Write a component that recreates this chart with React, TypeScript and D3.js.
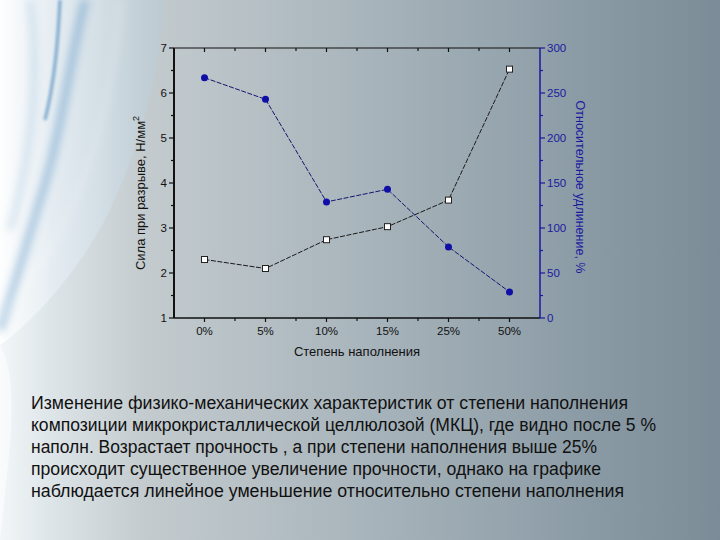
import React from "react";
import * as d3 from "d3";

const categories = ["0%", "5%", "10%", "15%", "25%", "50%"];
const strength = [2.3, 2.1, 2.74, 3.03, 3.62, 6.53];
const elongation = [267, 243, 129, 143, 79, 29];
const leftTicks = [1, 2, 3, 4, 5, 6, 7];
const rightTicks = [0, 50, 100, 150, 200, 250, 300];
const captionLines = [
  "Изменение физико-механических характеристик от степени наполнения",
  "композиции микрокристаллической целлюлозой (МКЦ), где видно после 5 %",
  "наполн. Возрастает прочность , а при степени наполнения выше 25%",
  "происходит существенное увеличение прочности, однако на графике",
  "наблюдается линейное уменьшение относительно степени наполнения",
];
const captionWidths = [597, 625, 566, 570, 593];

const W = 720;
const H = 540;
const L = 174, R = 540, T = 48, B = 318;
const BLUE = "#1a1aa0";
const FONT = "'Liberation Sans', Arial, sans-serif";

export default function App() {
  const x = d3.scalePoint<string>().domain(categories).range([L, R]).padding(0.5);
  const yL = d3.scaleLinear().domain([1, 7]).range([B, T]);
  const yR = d3.scaleLinear().domain([0, 300]).range([B, T]);
  const step = x.step();

  const lineS = d3.line<number>().x((_, i) => x(categories[i])!).y((d) => yL(d));
  const lineE = d3.line<number>().x((_, i) => x(categories[i])!).y((d) => yR(d));

  const leftMinor = d3.range(1.5, 7, 1);
  const rightMinor = d3.range(25, 300, 50);
  const xMinor = categories.slice(0, -1).map((c) => x(c)! + step / 2);

  return (
    <svg width={W} height={H} style={{ position: "absolute", left: 0, top: 0, display: "block" }}>
      <defs>
        <linearGradient id="bg" x1="0" x2="1" y1="0" y2="0">
          <stop offset="0" stopColor="#f2f6f8" />
          <stop offset="0.08" stopColor="#dbe3e7" />
          <stop offset="0.2" stopColor="#c3cbce" />
          <stop offset="0.5" stopColor="#a9b5bc" />
          <stop offset="0.8" stopColor="#8c9ca6" />
          <stop offset="1" stopColor="#7b8c98" />
        </linearGradient>
        <linearGradient id="sw" x1="0" x2="1" y1="0" y2="0">
          <stop offset="0" stopColor="#ffffff" stopOpacity="0.85" />
          <stop offset="0.6" stopColor="#d6e4ee" stopOpacity="0.55" />
          <stop offset="1" stopColor="#b8cad8" stopOpacity="0.45" />
        </linearGradient>
        <filter id="blur" x="-50%" y="-50%" width="200%" height="200%">
          <feGaussianBlur stdDeviation="4" />
        </filter>
        <filter id="blur2" x="-50%" y="-50%" width="200%" height="200%">
          <feGaussianBlur stdDeviation="1.5" />
        </filter>
      </defs>
      <rect x={0} y={0} width={W} height={H} fill="url(#bg)" />
      {/* decorative swoosh on the left */}
      <path d="M0,0 L165,0 C160,70 140,150 105,220 C75,275 35,320 0,345 Z" fill="url(#sw)" />
      <path d="M0,345 C20,380 10,450 0,540 L0,540 Z" fill="#ffffff" opacity={0.5} />
      <path d="M85,0 C70,60 60,140 40,200 C25,250 10,300 0,330" fill="none" stroke="#3f83bb" strokeWidth={7} opacity={0.45} filter="url(#blur)" />
      <path d="M60,0 C58,40 55,80 45,120" fill="none" stroke="#2f75b0" strokeWidth={3} opacity={0.6} filter="url(#blur2)" />
      <path d="M120,0 C115,80 95,170 55,240 C35,275 15,300 0,320" fill="none" stroke="#ffffff" strokeWidth={3} opacity={0.35} filter="url(#blur)" />
      <path d="M30,0 C40,80 30,160 10,230" fill="none" stroke="#9cc0dc" strokeWidth={5} opacity={0.5} filter="url(#blur)" />

      {/* frame */}
      <line x1={L} x2={R} y1={T} y2={T} stroke="#111" strokeWidth={1.2} />
      <line x1={L} x2={R} y1={B} y2={B} stroke="#111" strokeWidth={1.5} />
      <line x1={L} x2={L} y1={T} y2={B} stroke="#111" strokeWidth={2} />
      <line x1={R} x2={R} y1={T} y2={B} stroke={BLUE} strokeWidth={1.5} />

      {/* left axis ticks */}
      {leftTicks.map((t) => (
        <g key={"l" + t}>
          <line x1={L - 5} x2={L} y1={yL(t)} y2={yL(t)} stroke="#111" strokeWidth={1.2} />
          <text x={L - 7} y={yL(t)} dy="0.35em" textAnchor="end" fontSize={11.5} fontFamily={FONT} fill="#111">
            {t}
          </text>
        </g>
      ))}
      {leftMinor.map((t) => (
        <line key={"lm" + t} x1={L - 3} x2={L} y1={yL(t)} y2={yL(t)} stroke="#111" strokeWidth={1.2} />
      ))}

      {/* right axis ticks */}
      {rightTicks.map((t) => (
        <g key={"r" + t}>
          <line x1={R} x2={R + 5} y1={yR(t)} y2={yR(t)} stroke={BLUE} strokeWidth={1.2} />
          <text x={R + 7} y={yR(t)} dy="0.35em" textAnchor="start" fontSize={11.5} fontFamily={FONT} fill={BLUE}>
            {t}
          </text>
        </g>
      ))}
      {rightMinor.map((t) => (
        <line key={"rm" + t} x1={R} x2={R + 3} y1={yR(t)} y2={yR(t)} stroke={BLUE} strokeWidth={1.2} />
      ))}

      {/* x ticks */}
      {categories.map((c) => (
        <g key={"x" + c}>
          <line x1={x(c)} x2={x(c)} y1={B} y2={B + 4} stroke="#111" strokeWidth={1.2} />
          <line x1={x(c)} x2={x(c)} y1={T} y2={T + 4} stroke="#111" strokeWidth={1.2} />
          <text x={x(c)} y={B + 17} textAnchor="middle" fontSize={11.5} fontFamily={FONT} fill="#111">
            {c}
          </text>
        </g>
      ))}
      {xMinor.map((v, i) => (
        <g key={"xm" + i}>
          <line x1={v} x2={v} y1={B} y2={B + 3} stroke="#111" strokeWidth={1.2} />
          <line x1={v} x2={v} y1={T} y2={T + 3} stroke="#111" strokeWidth={1.2} />
        </g>
      ))}

      {/* axis titles */}
      <text
        transform={`translate(${145},${193}) rotate(-90)`}
        textAnchor="middle"
        fontSize={13}
        fontFamily={FONT}
        fill="#111"
      >
        Сила при разрыве,  Н/мм
        <tspan dy={-6} fontSize={9}>2</tspan>
      </text>
      <text
        transform={`translate(${576},${187}) rotate(90)`}
        textAnchor="middle"
        fontSize={12.5}
        fontFamily={FONT}
        fill={BLUE}
      >
        Относительное удлинение, %
      </text>
      <text x={357} y={356} textAnchor="middle" fontSize={13} fontFamily={FONT} fill="#111">
        Степень наполнения
      </text>

      {/* series */}
      <path d={lineS(strength) ?? ""} fill="none" stroke="#1a1a1a" strokeWidth={1} strokeDasharray="5,1.5" />
      <path d={lineE(elongation) ?? ""} fill="none" stroke="#15156e" strokeWidth={1} strokeDasharray="5,1.5" />
      {strength.map((v, i) => (
        <rect
          key={"s" + i}
          x={x(categories[i])! - 3}
          y={yL(v) - 3}
          width={6}
          height={6}
          fill="#ffffff"
          stroke="#222"
          strokeWidth={1}
        />
      ))}
      {elongation.map((v, i) => (
        <circle key={"e" + i} cx={x(categories[i])} cy={yR(v)} r={3.5} fill="#0f0fa8" />
      ))}

      {/* caption */}
      {captionLines.map((s, i) => (
        <text
          key={"c" + i}
          x={31}
          y={409 + i * 22}
          fontSize={17.5}
          fontFamily={FONT}
          fill="#111"
          textLength={captionWidths[i]}
          lengthAdjust="spacingAndGlyphs"
        >
          {s}
        </text>
      ))}
    </svg>
  );
}
